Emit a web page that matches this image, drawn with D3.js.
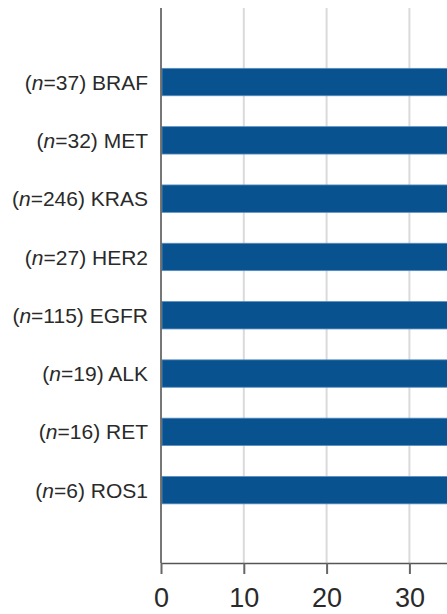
<!DOCTYPE html>
<html>
<head>
<meta charset="utf-8">
<script src="https://cdn.jsdelivr.net/npm/d3@7"></script>
<style>
  html, body { margin: 0; padding: 0; background: #fff; overflow: hidden; }
  .cat text { font-family: "Liberation Sans", Arial, sans-serif; font-size: 21px; fill: #2a2a2a; }
  .xaxis text { font-family: "Liberation Sans", Arial, sans-serif; font-size: 27px; fill: #2a2a2a; }
</style>
</head>
<body>
<svg class="chart"></svg>
<script>
// genes, top to bottom
var genes = ["BRAF", "MET", "KRAS", "HER2", "EGFR", "ALK", "RET", "ROS1"];
var counts = [37, 32, 246, 27, 115, 19, 16, 6];
// bar values run past the right edge of the crop; only ">35" is visible
var values = [45, 48, 42, 52, 55, 70, 60, 50];
var xTicks = [0, 10, 20, 30];

var W = 447, H = 614;
var margin = {top: 8, left: 161, axisY: 563};

var svg = d3.select(".chart")
    .attr("width", W)
    .attr("height", H);

// 10 units = 82.8px; the chart continues past the right edge
var x = d3.scaleLinear()
    .domain([0, 80])
    .range([margin.left, margin.left + 8 * 82.8]);

var y = d3.scaleBand()
    .domain(genes)
    .range([52.9, 519.3])
    .paddingInner(0.53)
    .paddingOuter(0.265);

// GRIDLINES
svg.append("g").selectAll("line")
    .data(xTicks.filter(function(d) { return d > 0; }))
  .enter().append("line")
    .attr("x1", function(d) { return x(d); })
    .attr("x2", function(d) { return x(d); })
    .attr("y1", margin.top)
    .attr("y2", margin.axisY)
    .attr("stroke", "#dadada")
    .attr("stroke-width", 2);

// BARS
svg.append("g").selectAll("rect")
    .data(genes)
  .enter().append("rect")
    .attr("x", x(0) + 1)
    .attr("y", function(d) { return y(d); })
    .attr("width", function(d, i) { return x(values[i]) - x(0); })
    .attr("height", y.bandwidth())
    .attr("fill", "#07528f")
    .attr("stroke", "#5b8ec2")
    .attr("stroke-width", 0.8);

// X AXIS
var xAxis = d3.axisBottom(x)
    .tickValues(xTicks)
    .tickSize(11)
    .tickPadding(14)
    .tickSizeOuter(0);

var gx = svg.append("g")
    .attr("class", "xaxis")
    .attr("transform", "translate(0," + margin.axisY + ")")
    .call(xAxis);
gx.select(".domain").attr("stroke", "#555").attr("stroke-width", 1.6);
gx.selectAll(".tick line").attr("stroke", "#666").attr("stroke-width", 2);
gx.selectAll(".tick text").attr("dy", "0.71em");

// Y AXIS LINE
svg.append("line")
    .attr("x1", x(0)).attr("x2", x(0))
    .attr("y1", margin.top).attr("y2", margin.axisY)
    .attr("stroke", "#555")
    .attr("stroke-width", 1.6);

// CATEGORY LABELS
var lab = svg.append("g").attr("class", "cat").selectAll("text")
    .data(genes)
  .enter().append("text")
    .attr("x", 148)
    .attr("y", function(d) { return y(d) + y.bandwidth() / 2; })
    .attr("dy", "0.36em")
    .attr("text-anchor", "end");

lab.append("tspan").text("(");
lab.append("tspan").attr("font-style", "italic").text("n");
lab.append("tspan").text(function(d, i) { return "=" + counts[i] + ") " + d; });
</script>
</body>
</html>
